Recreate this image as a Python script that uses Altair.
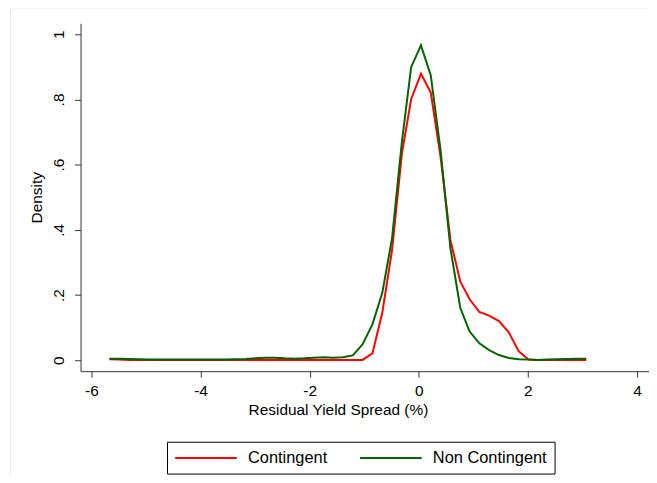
import altair as alt
import pandas as pd

# Grid of evaluation points (residual yield spread, %)
x_vals = [-5.67, -5.49, -5.31, -5.14, -4.96, -4.78, -4.60, -4.42, -4.24, -4.06,
          -3.89, -3.71, -3.53, -3.35, -3.17, -2.99, -2.82, -2.64, -2.46, -2.28,
          -2.10, -1.92, -1.74, -1.57, -1.39, -1.21, -1.03, -0.85, -0.67, -0.49,
          -0.31, -0.14, 0.04, 0.22, 0.40, 0.58, 0.76, 0.93, 1.11, 1.29,
          1.47, 1.65, 1.83, 2.01, 2.18, 2.36, 2.54, 2.72, 2.90, 3.07]

contingent = [0.003, 0.002, 0.001, 0.001, 0.001, 0.001, 0.001, 0.001, 0.001, 0.001,
              0.001, 0.001, 0.001, 0.001, 0.001, 0.001, 0.001, 0.001, 0.001, 0.001,
              0.001, 0.001, 0.001, 0.001, 0.001, 0.001, 0.001, 0.021, 0.145, 0.338,
              0.633, 0.801, 0.879, 0.821, 0.623, 0.369, 0.242, 0.188, 0.148, 0.137,
              0.120, 0.086, 0.028, 0.002, 0.001, 0.001, 0.001, 0.001, 0.001, 0.001]

non_contingent = [0.005, 0.005, 0.004, 0.003, 0.002, 0.002, 0.002, 0.002, 0.002, 0.002,
                  0.002, 0.002, 0.002, 0.003, 0.004, 0.006, 0.008, 0.008, 0.006, 0.005,
                  0.006, 0.008, 0.009, 0.008, 0.009, 0.015, 0.049, 0.110, 0.206, 0.374,
                  0.669, 0.899, 0.966, 0.874, 0.643, 0.344, 0.161, 0.089, 0.052, 0.031,
                  0.016, 0.007, 0.003, 0.002, 0.001, 0.002, 0.003, 0.004, 0.005, 0.005]

series_names = ["Contingent", "Non Contingent"]
series_colors = ["#ff0000", "#006400"]
x_ticks = [-6, -4, -2, 0, 2, 4]
y_ticks = [0, 0.2, 0.4, 0.6, 0.8, 1]

rows = []
for name, vals in zip(series_names, [contingent, non_contingent]):
    for x, y in zip(x_vals, vals):
        rows.append({"x": x, "density": y, "series": name, "order": series_names.index(name)})
df = pd.DataFrame(rows)

FONT = "Liberation Sans"

lines = alt.Chart(df).mark_line(strokeWidth=2).encode(
    x=alt.X("x:Q",
            scale=alt.Scale(domain=[-6.2, 4.22], nice=False, zero=False),
            axis=alt.Axis(values=x_ticks, title="Residual Yield Spread (%)",
                          labelExpr="'' + datum.value",
                          labelPadding=6, titlePadding=4,
                          titleX=259, titleAnchor="start", titleAlign="center")),
    y=alt.Y("density:Q",
            scale=alt.Scale(domain=[-0.0335, 1.0335], nice=False, zero=False),
            axis=alt.Axis(values=y_ticks, title="Density",
                          labelExpr="datum.value == 0 ? '0' : datum.value == 1 ? '1' : substring(format(datum.value, '.1f'), 1)",
                          labelAngle=-90, labelAlign="center", labelBaseline="bottom",
                          labelPadding=8, titlePadding=7)),
    color=alt.Color("series:N",
                    scale=alt.Scale(domain=series_names, range=series_colors),
                    legend=alt.Legend(title=None, orient="none", direction="horizontal",
                                      legendX=87, legendY=421,
                                      symbolType="M-1,0H7", symbolSize=240.25,
                                      symbolStrokeWidth=2, symbolFillColor="transparent",
                                      labelOffset=56.5,
                                      columnPadding=28, padding=7,
                                      strokeColor="black", fillColor="white",
                                      labelFontSize=16.5, labelFont=FONT,
                                      labelColor="black")),
    order=alt.Order("order:Q"),
    detail="series:N",
)

frame = alt.Chart(alt.Data(values=[{"a": 1}])).mark_rect(
    fill="transparent", stroke="#e3ecee", strokeWidth=1
).encode(
    x=alt.value(-70.5), x2=alt.value(700), y=alt.value(-15.5), y2=alt.value(600)
)

chart = alt.layer(frame, lines).properties(
    width=572, height=350,
    background="white",
    autosize=alt.AutoSizeParams(type="none"),
    padding={"left": 73, "top": 14, "right": 0, "bottom": 103},
).configure_view(strokeWidth=0).configure_axis(
    grid=False, domainColor="#333333", tickColor="#333333",
    domainWidth=1, tickWidth=1, tickSize=6,
    labelFont=FONT, titleFont=FONT, labelFontSize=15.5, titleFontSize=15.5,
    labelColor="black", titleColor="black", titleFontWeight="normal",
)

chart.save("out.html", embed_options={"renderer": "svg", "actions": False})
